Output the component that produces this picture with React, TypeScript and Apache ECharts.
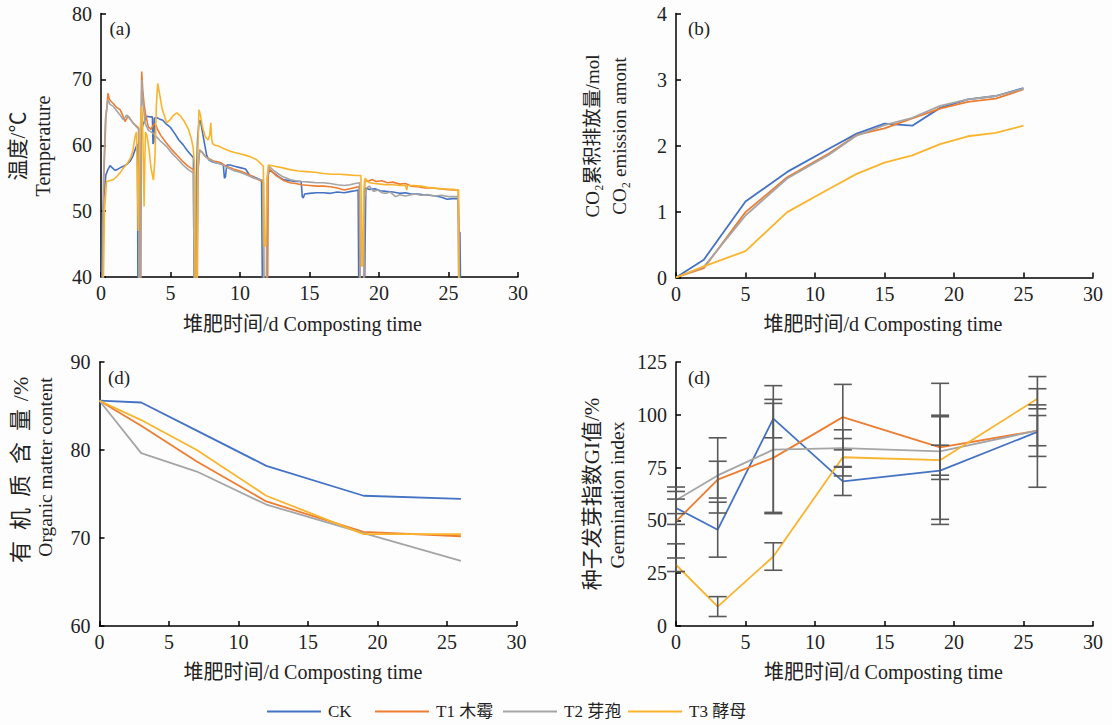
import React, { useEffect, useRef } from 'react';
import * as echarts from 'echarts';

const FONT = "'Liberation Serif', 'Noto Sans CJK SC', serif";

const seriesNames = ['CK', 'T1 木霉', 'T2 芽孢', 'T3 酵母'];
const colors = ['#4472C4', '#ED7D31', '#A5A5A5', '#F9B42D'];

// (a) temperature, [day, °C]
const tempCK: number[][] = [
  [0.05, 36], [0.1, 48], [0.2, 52], [0.35, 55.5], [0.5, 56.3], [0.65, 56.9], [0.8, 56.6], [1.0, 56.2], [1.15, 56.3],
  [1.4, 56.6], [1.6, 56.8], [1.85, 57.1], [2.1, 57.6], [2.3, 58.4], [2.5, 59.6], [2.62, 60.2], [2.66, 36], [2.8, 36],
  [2.84, 56], [2.9, 62], [3.0, 63], [3.15, 63.8], [3.3, 64.4], [3.55, 64.3], [3.7, 64.3], [3.74, 60.2], [3.8, 60.5],
  [3.84, 64.1], [4.0, 64.2], [4.2, 64.0], [4.45, 63.8], [4.7, 63.2], [5.0, 62.7], [5.3, 61.8], [5.6, 60.8], [5.9, 60.1],
  [6.2, 59.2], [6.45, 58.6], [6.65, 58.1], [6.7, 36], [6.82, 36], [6.86, 55], [6.95, 61], [7.05, 63.5], [7.15, 63.8],
  [7.3, 62.0], [7.45, 60.2], [7.6, 58.5], [7.75, 57.8], [8.0, 57.5], [8.3, 57.3], [8.6, 57.2], [8.8, 57.0], [8.88, 55.0],
  [8.95, 55.2], [9.05, 57.0], [9.3, 57.0], [9.6, 56.8], [10.0, 56.6], [10.4, 56.4], [10.7, 55.4], [11.0, 55.2],
  [11.3, 54.9], [11.55, 54.7], [11.62, 36], [11.95, 36], [12.0, 55], [12.1, 56.3], [12.4, 55.8], [12.8, 55.2],
  [13.1, 54.8], [13.6, 54.6], [14.0, 54.5], [14.4, 54.5], [14.48, 52.2], [14.55, 52.0], [14.65, 52.6], [15.0, 52.7],
  [15.5, 52.8], [16.0, 52.8], [16.5, 52.7], [17.0, 52.9], [17.5, 52.8], [18.0, 53.0], [18.3, 53.1], [18.5, 53.2],
  [18.55, 36], [18.95, 36], [19.05, 53.5], [19.3, 53.3], [19.7, 53.4], [20.1, 53.1], [20.5, 53.0], [21.0, 52.9],
  [21.5, 52.7], [21.9, 52.8], [22.3, 52.6], [22.8, 52.6], [23.1, 52.5], [23.6, 52.4], [24.1, 52.3], [24.5, 52.1],
  [24.9, 51.8], [25.3, 51.9], [25.6, 51.9], [25.7, 51.8], [25.75, 46.8], [25.82, 46.8], [25.88, 36],
];
const tempT1: number[][] = [
  [0.1, 36], [0.2, 55], [0.35, 64], [0.5, 67.9], [0.6, 67.0], [0.75, 66.6], [0.9, 66.3], [1.1, 65.8], [1.37, 65.4],
  [1.55, 64.6], [1.73, 63.6], [1.85, 64.1], [1.97, 64.4], [2.1, 64.0], [2.3, 63.4], [2.45, 63.1], [2.62, 62.8],
  [2.72, 62.5], [2.75, 36], [2.86, 36], [2.9, 65], [2.93, 71.2], [3.0, 68.5], [3.1, 66.2], [3.2, 64.8], [3.4, 62.8],
  [3.6, 62.4], [3.75, 63.0], [3.9, 63.3], [4.05, 62.5], [4.3, 61.5], [4.72, 60.3], [5.1, 59.3], [5.56, 58.3],
  [5.9, 57.5], [6.28, 56.8], [6.5, 56.5], [6.68, 56.2], [6.74, 36], [6.92, 36], [6.98, 56], [7.08, 59.3], [7.25, 59.0],
  [7.45, 58.4], [7.72, 58.0], [8.1, 57.6], [8.4, 57.5], [8.68, 57.3], [9.0, 56.8], [9.3, 56.6], [9.64, 56.3],
  [10.0, 56.1], [10.36, 55.8], [10.7, 55.5], [11.0, 55.1], [11.3, 54.8], [11.6, 54.5], [11.68, 54.5], [11.72, 36],
  [11.98, 36], [12.02, 55], [12.06, 56.5], [12.3, 56.0], [12.6, 55.4], [13.1, 54.7], [13.6, 54.3], [14.0, 54.2],
  [14.44, 54.0], [15.0, 53.9], [15.5, 53.8], [16.0, 53.8], [16.5, 53.7], [17.0, 53.5], [17.5, 53.2], [17.9, 53.4],
  [18.3, 53.6], [18.57, 53.7], [18.65, 36], [18.92, 36], [18.97, 54.7], [19.2, 54.5], [19.5, 54.8], [19.8, 54.5],
  [20.2, 54.6], [20.6, 54.3], [21.0, 54.4], [21.5, 54.1], [21.9, 54.2], [22.3, 53.8], [22.8, 53.7], [23.3, 53.5],
  [23.8, 53.5], [24.3, 53.4], [24.8, 53.3], [25.3, 53.2], [25.6, 53.2], [25.7, 53.2], [25.75, 36],
];
const tempT2: number[][] = [
  [0.08, 36], [0.18, 55], [0.32, 64], [0.5, 66.9], [0.65, 66.2], [0.88, 65.9], [1.1, 65.3], [1.37, 64.6], [1.6, 63.9],
  [1.75, 64.3], [1.85, 64.6], [2.0, 64.2], [2.3, 63.4], [2.6, 62.7], [2.7, 62.5], [2.73, 36], [2.84, 36], [2.88, 62],
  [2.93, 69.9], [3.0, 67.0], [3.17, 63.4], [3.4, 62.3], [3.77, 61.8], [4.2, 60.8], [4.72, 59.8], [5.1, 58.8],
  [5.56, 57.8], [5.9, 57.0], [6.28, 56.3], [6.5, 56.0], [6.64, 55.8], [6.72, 36], [6.9, 36], [6.96, 56], [7.1, 59.2],
  [7.3, 58.9], [7.55, 58.2], [7.8, 57.8], [8.2, 57.4], [8.68, 57.1], [9.0, 56.7], [9.3, 56.4], [9.64, 56.1],
  [10.0, 55.9], [10.36, 55.6], [10.7, 55.3], [11.0, 55.0], [11.4, 54.8], [11.68, 54.7], [11.72, 36], [11.88, 36],
  [11.95, 55], [12.1, 56.8], [12.4, 56.2], [12.8, 55.6], [13.1, 55.2], [13.6, 54.8], [14.0, 54.6], [14.44, 54.5],
  [15.0, 54.4], [15.5, 54.3], [16.0, 54.3], [16.5, 54.2], [17.0, 54.0], [17.5, 53.9], [17.9, 54.0], [18.3, 54.2],
  [18.6, 54.3], [18.65, 36], [18.88, 36], [18.95, 52], [19.1, 53.5], [19.3, 53.8], [19.6, 53.0], [19.9, 53.2],
  [20.2, 52.8], [20.5, 52.7], [20.8, 52.9], [21.2, 52.2], [21.5, 52.5], [21.9, 52.3], [22.3, 52.5], [22.6, 52.6],
  [23.0, 52.4], [23.5, 52.5], [24.0, 52.3], [24.5, 52.4], [25.0, 52.2], [25.4, 52.2], [25.6, 52.2], [25.7, 52.2],
  [25.74, 36],
];
const tempT3: number[][] = [
  [0.15, 36], [0.25, 50], [0.4, 54.5], [0.6, 54.6], [0.9, 54.8], [1.15, 55.3], [1.37, 55.8], [1.6, 56.5], [1.8, 57.0],
  [1.97, 57.5], [2.15, 58.2], [2.3, 59.3], [2.45, 61.3], [2.55, 62.0], [2.62, 55], [2.68, 47], [2.74, 56], [2.82, 62],
  [2.9, 65.9], [2.98, 64.5], [3.05, 57], [3.1, 50.7], [3.15, 57], [3.2, 62], [3.3, 61.5], [3.45, 59.5], [3.6, 56.5],
  [3.77, 54.7], [3.88, 58], [3.98, 66], [4.08, 69.4], [4.2, 68.0], [4.4, 65.5], [4.72, 63.4], [4.95, 63.8], [5.2, 64.5],
  [5.45, 64.9], [5.7, 64.5], [6.0, 63.6], [6.28, 62.5], [6.5, 61.0], [6.64, 59.5], [6.72, 57], [6.78, 36], [6.9, 36],
  [6.95, 58], [7.05, 65.4], [7.15, 64.6], [7.3, 62.8], [7.5, 61.3], [7.7, 60.8], [7.82, 61.5], [7.9, 63.4],
  [7.96, 61], [8.02, 60.3], [8.2, 60.0], [8.44, 59.9], [8.8, 59.5], [9.16, 59.2], [9.6, 58.9], [10.0, 58.7],
  [10.36, 58.5], [10.8, 58.2], [11.2, 57.8], [11.5, 57.2], [11.68, 56.8], [11.75, 44.6], [11.85, 44.8], [11.95, 55],
  [12.04, 57.0], [12.5, 56.8], [13.0, 56.6], [13.6, 56.3], [14.2, 56.1], [14.8, 56.0], [15.4, 55.9], [16.0, 55.7],
  [16.6, 55.6], [17.2, 55.6], [17.8, 55.5], [18.3, 55.4], [18.7, 55.4], [18.76, 41.6], [18.82, 41.8], [18.9, 53],
  [19.0, 55.0], [19.3, 54.3], [19.7, 54.2], [20.1, 54.1], [20.5, 54.0], [21.0, 54.0], [21.5, 53.9], [21.9, 53.9],
  [22.0, 53.2], [22.05, 53.9], [22.5, 53.9], [23.0, 53.8], [23.5, 53.6], [24.0, 53.5], [24.5, 53.4], [25.0, 53.3],
  [25.4, 53.3], [25.6, 53.2], [25.72, 53.2], [25.76, 36],
];

// (b) cumulative CO2 emission, mol
const co2Days = [0, 2, 5, 8, 11, 13, 15, 17, 19, 21, 23, 25];
const co2CK = [0, 0.27, 1.15, 1.6, 1.95, 2.18, 2.33, 2.3, 2.57, 2.7, 2.75, 2.87];
const co2T1 = [0, 0.14, 0.99, 1.52, 1.88, 2.16, 2.26, 2.41, 2.56, 2.66, 2.71, 2.85];
const co2T2 = [0, 0.16, 0.94, 1.5, 1.86, 2.15, 2.31, 2.42, 2.6, 2.7, 2.75, 2.86];
const co2T3 = [0, 0.17, 0.4, 0.99, 1.34, 1.57, 1.74, 1.85, 2.02, 2.14, 2.19, 2.3];

// (c) organic matter content, %
const omDays = [0, 3, 7, 12, 19, 26];
const omCK = [85.6, 85.4, 82.2, 78.2, 74.8, 74.45];
const omT1 = [85.6, 82.75, 78.7, 74.15, 70.7, 70.2];
const omT2 = [85.6, 79.65, 77.55, 73.8, 70.55, 67.4];
const omT3 = [85.6, 83.4, 80.0, 74.8, 70.45, 70.45];

// (d) germination index, % (mean and error)
const giDays = [0, 3, 7, 12, 19, 26];
const giCK = [55.9, 45.6, 98.2, 68.5, 73.6, 91.9];
const giT1 = [49.5, 69.3, 79.6, 98.9, 84.6, 92.5];
const giT2 = [59.5, 71.3, 83.5, 84.2, 82.7, 92.5];
const giT3 = [29.0, 9.2, 32.9, 79.9, 78.5, 107.6];
const giErrCK = [7.8, 13.0, 9.1, 6.7, 25.5, 26.2];
const giErrT1 = [10.6, 8.7, 25.8, 15.5, 15.2, 12.2];
const giErrT2 = [6.3, 17.8, 30.3, 8.7, 32.2, 7.15];
const giErrT3 = [3.2, 4.7, 6.5, 8.85, 7.1, 4.75];

const xTickMin = 0;
const xTickMax = 30;
const xTickStep = 5;
const yRanges = [
  { min: 40, max: 80, interval: 10 },
  { min: 0, max: 4, interval: 1 },
  { min: 60, max: 90, interval: 10 },
  { min: 0, max: 125, interval: 25 },
];

const pair = (xs: number[], ys: number[]) => xs.map((x, i) => [x, ys[i]]);

export default function App() {
  const ref = useRef<HTMLDivElement>(null);
  useEffect(() => {
    if (!ref.current) return;
    const chart = echarts.init(ref.current, undefined, { renderer: 'svg' });

    const grids = [
      { left: 101, top: 13.5, width: 417, height: 263.5 },
      { left: 676, top: 13.5, width: 417, height: 264 },
      { left: 99.5, top: 362, width: 417, height: 264 },
      { left: 676, top: 362, width: 417, height: 264 },
    ];
    const axisLine = { show: true, onZero: false, lineStyle: { color: '#000', width: 1.5 } };
    const axisTick = { show: true, inside: true, length: 5, lineStyle: { color: '#000', width: 1.5 } };
    const labelStyle = { color: '#222', fontSize: 20, fontFamily: FONT };

    const xAxis = grids.map((_, i) => ({
      type: 'value', gridIndex: i, min: xTickMin, max: xTickMax, interval: xTickStep,
      axisLine, axisTick, splitLine: { show: false },
      axisLabel: { ...labelStyle, margin: 6 },
    }));
    const yAxis = grids.map((_, i) => ({
      type: 'value', gridIndex: i, ...yRanges[i],
      axisLine, axisTick, splitLine: { show: false },
      axisLabel: { ...labelStyle, margin: 9 },
    }));

    const lineSeries = (name: string, color: string, idx: number, data: number[][], width = 1.8) => ({
      type: 'line', name, xAxisIndex: idx, yAxisIndex: idx, data, showSymbol: false, symbol: 'none',
      lineStyle: { color, width }, itemStyle: { color }, clip: true, z: 3,
    });

    const tempData = [tempCK, tempT1, tempT2, tempT3];
    const co2Data = [co2CK, co2T1, co2T2, co2T3];
    const omData = [omCK, omT1, omT2, omT3];
    const giData = [giCK, giT1, giT2, giT3];
    const giErr = [giErrCK, giErrT1, giErrT2, giErrT3];

    const series: any[] = [];
    seriesNames.forEach((n, k) => series.push(lineSeries(n, colors[k], 0, tempData[k], 1.6)));
    seriesNames.forEach((n, k) => series.push(lineSeries(n, colors[k], 1, pair(co2Days, co2Data[k]))));
    seriesNames.forEach((n, k) => series.push(lineSeries(n, colors[k], 2, pair(omDays, omData[k]))));
    seriesNames.forEach((n, k) => series.push(lineSeries(n, colors[k], 3, pair(giDays, giData[k]))));
    seriesNames.forEach((n, k) => {
      series.push({
        type: 'custom', name: n + ' err', xAxisIndex: 3, yAxisIndex: 3, z: 4,
        data: giDays.map((d, i) => [d, giData[k][i] - giErr[k][i], giData[k][i] + giErr[k][i]]),
        encode: { x: 0, y: [1, 2] },
        renderItem: (params: any, api: any) => {
          const lo = api.coord([api.value(0), api.value(1)]);
          const hi = api.coord([api.value(0), api.value(2)]);
          const hw = 9;
          const st = { stroke: '#595959', lineWidth: 1.6 };
          return {
            type: 'group',
            children: [
              { type: 'line', shape: { x1: lo[0], y1: lo[1], x2: hi[0], y2: hi[1] }, style: st },
              { type: 'line', shape: { x1: lo[0] - hw, y1: lo[1], x2: lo[0] + hw, y2: lo[1] }, style: st },
              { type: 'line', shape: { x1: hi[0] - hw, y1: hi[1], x2: hi[0] + hw, y2: hi[1] }, style: st },
            ],
          };
        },
      });
    });

    const legendLefts = [267, 375, 503, 628];
    const legend = seriesNames.map((n, k) => ({
      data: [n], left: legendLefts[k], top: 703, padding: 0, icon: 'rect', itemWidth: 54, itemHeight: 2,
      textStyle: { fontSize: 17, fontFamily: FONT, color: '#222', padding: [0, 0, 0, 2] },
      selectedMode: false,
    }));

    const txt = (text: string, x: number, y: number, size: number, rot = 0) => ({
      type: 'text', x, y, rotation: rot, silent: true,
      style: { text, fill: '#222', font: `${size}px ${FONT}`, textAlign: 'center', textVerticalAlign: 'middle' },
    });
    const R = Math.PI / 2;
    const xName = '堆肥时间/d Composting time';
    // spaced vertical Chinese title for panel (c)
    const omTitleChars = ['有', '机', '质', '含', '量'];
    const omTitle = omTitleChars.map((c, i) => txt(c, 20, 552 - i * 33, 22, R));
    const graphic = [
      txt('(a)', 120, 28, 19), txt('(b)', 699, 28, 19), txt('(d)', 119, 377, 19), txt('(d)', 699, 377, 19),
      txt(xName, 302.5, 324, 20), txt(xName, 883, 324, 20), txt(xName, 303, 672, 20), txt(xName, 883.5, 672, 20),
      txt('温度/℃', 18, 146, 21, R), txt('Temperature', 43, 146, 20, R),
      txt('CO₂累积排放量/mol', 592, 136, 19, R), txt('CO₂ emission amont', 619, 136, 19, R),
      ...omTitle, txt('/%', 20, 389, 22, R), txt('Organic matter content', 45, 467, 19.5, R),
      txt('种子发芽指数GI值/%', 592, 494, 21, R), txt('Germination index', 617, 495, 19.5, R),
    ];

    chart.setOption({
      animation: false,
      backgroundColor: '#fdfdfd',
      grid: grids,
      xAxis, yAxis, series, legend, graphic,
    } as any);
    return () => chart.dispose();
  }, []);
  return <div ref={ref} style={{ position: 'fixed', left: 0, top: 0, width: 1112, height: 725 }} />;
}
